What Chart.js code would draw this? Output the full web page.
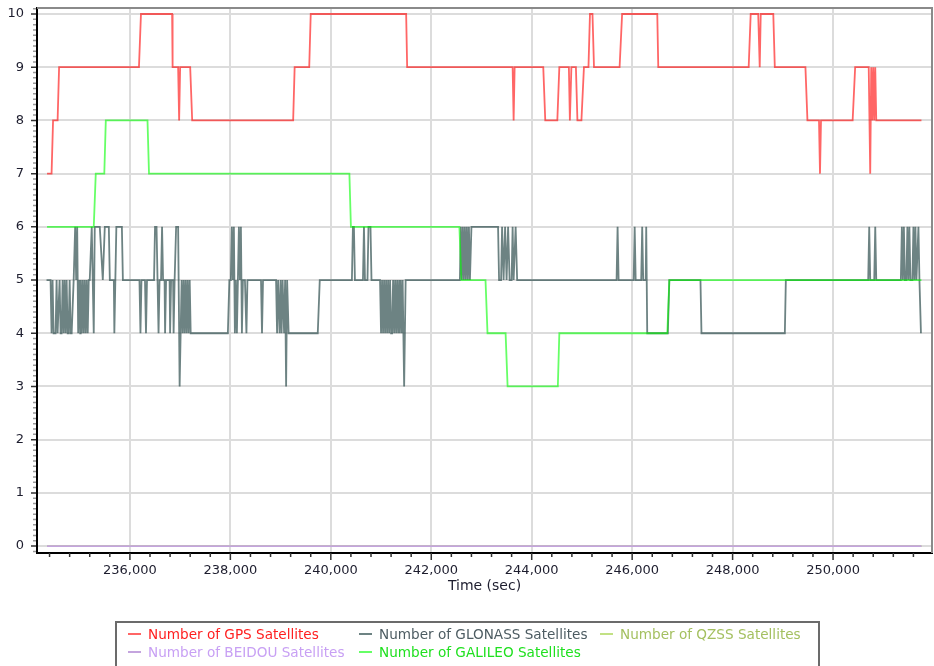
<!DOCTYPE html>
<html>
<head>
<meta charset="utf-8">
<script src="https://cdn.jsdelivr.net/npm/chart.js@4.4.1/dist/chart.umd.min.js"></script>
<style>
  html, body { margin: 0; padding: 0; background: #fff; overflow: hidden; }
  #wrap { position: relative; width: 934px; height: 666px; }
  #legend { position: absolute; left: 115px; top: 621px; width: 701px; height: 50px;
            border: 2px solid #6b6b6b; font: 13.6px "DejaVu Sans", sans-serif; }
  .item { position: absolute; white-space: nowrap; line-height: 16px; }
  .item i { position: absolute; left: -20px; top: 7px; width: 13px; height: 2px; }
</style>
</head>
<body>
<div id="wrap">
  <canvas id="chart" width="934" height="666"></canvas>
  <div id="legend"></div>
</div>
<script>
// [time (sec), number of satellites]
const gps = [[234350,7],[234440,7],[234470,8],[234560,8],[234590,9],[236180,9],[236220,10],[236840,10],
  [236850,9],[236960,9],[236980,8],[237000,9],[237200,9],[237240,8],[239250,8],[239280,9],[239570,9],
  [239600,10],[241500,10],[241520,9],[243620,9],[243640,8],[243660,9],[244230,9],[244270,8],[244510,8],
  [244550,9],[244740,9],[244760,8],[244790,9],[244880,9],[244910,8],[244990,8],[245040,9],[245130,9],
  [245160,10],[245210,10],[245240,9],[245750,9],[245800,10],[246500,10],[246520,9],[248320,9],[248360,10],
  [248510,10],[248540,9],[248560,10],[248810,10],[248840,9],[249450,9],[249490,8],[249720,8],[249740,7],
  [249760,8],[250390,8],[250440,9],[250710,9],[250740,7],[250760,9],[250780,8],[250800,9],[250820,8],
  [250840,9],[250860,8],[251760,8]];

const glonass = [[234340,5],[234420,5],[234440,4],[234460,5],[234480,4],[234520,4],[234540,5],[234560,4],
  [234600,5],[234620,4],[234640,4],[234660,5],[234680,4],[234700,5],[234720,4],[234740,5],[234760,4],
  [234780,4],[234800,5],[234820,4],[234840,4],[234880,5],[234910,6],[234930,5],[234950,6],[234970,4],
  [234990,5],[235010,4],[235020,5],[235040,4],[235060,5],[235080,4],[235100,5],[235120,4],[235140,5],
  [235160,4],[235180,5],[235200,5],[235240,6],[235280,4],[235300,6],[235400,6],[235460,5],[235500,6],
  [235580,6],[235600,5],[235680,5],[235690,4],[235710,5],[235730,6],[235840,6],[235860,5],[236190,5],
  [236210,4],[236230,5],[236300,5],[236320,4],[236340,5],[236480,5],[236500,6],[236530,6],[236550,5],
  [236570,4],[236590,5],[236620,5],[236640,6],[236660,5],[236690,5],[236700,4],[236720,5],[236790,5],
  [236800,4],[236820,5],[236860,5],[236870,4],[236890,5],[236920,6],[236960,6],[236990,3],[237010,4],
  [237030,5],[237050,4],[237070,5],[237090,4],[237110,5],[237130,4],[237150,5],[237170,4],[237190,5],
  [237210,4],[237950,4],[237980,5],[238010,5],[238030,6],[238050,5],[238070,6],[238090,4],[238110,5],
  [238130,4],[238150,5],[238170,6],[238190,5],[238210,6],[238230,4],[238250,5],[238290,5],[238320,4],
  [238340,5],[238610,5],[238630,4],[238650,5],[238910,5],[238930,4],[238950,5],[238980,4],[239000,5],
  [239020,4],[239040,5],[239070,4],[239090,5],[239110,3],[239130,5],[239160,4],[239740,4],[239780,5],
  [240420,5],[240440,6],[240460,6],[240480,5],[240640,5],[240660,6],[240680,5],[240730,5],[240750,6],
  [240790,6],[240810,5],[240980,5],[241000,4],[241020,5],[241040,4],[241060,5],[241080,4],[241100,5],
  [241120,4],[241140,5],[241160,4],[241180,5],[241200,4],[241220,4],[241240,5],[241260,4],[241280,5],
  [241300,4],[241320,5],[241340,4],[241360,5],[241370,4],[241390,5],[241410,4],[241430,5],[241460,3],
  [241490,5],[242570,5],[242590,6],[242610,5],[242630,6],[242650,5],[242670,6],[242690,5],[242710,6],
  [242730,5],[242750,6],[242770,5],[242800,6],[243330,6],[243350,5],[243390,5],[243410,6],[243440,5],
  [243470,6],[243500,5],[243530,6],[243560,5],[243600,5],[243620,6],[243640,5],[243680,6],[243710,5],
  [245690,5],[245710,6],[245730,5],[246030,5],[246050,6],[246070,5],[246180,5],[246200,6],[246220,5],
  [246270,5],[246280,6],[246300,4],[246710,4],[246740,5],[247360,5],[247380,4],[249040,4],[249060,5],
  [250700,5],[250720,6],[250740,5],[250820,5],[250840,6],[250860,5],[251350,5],[251370,6],[251390,5],
  [251410,6],[251430,5],[251460,5],[251480,6],[251500,5],[251520,6],[251540,5],[251580,5],[251600,6],
  [251620,5],[251640,6],[251660,5],[251700,6],[251720,5],[251750,4]];

const qzss = [[234350,0],[251760,0]];
const beidou = [[234350,0],[251760,0]];

const galileo = [[234350,6],[235280,6],[235320,7],[235490,7],[235520,8],[236350,8],[236380,7],[240370,7],
  [240400,6],[242560,6],[242600,5],[243080,5],[243120,4],[243480,4],[243520,3],[244520,3],[244550,4],
  [246700,4],[246740,5],[251760,5]];

const labels = ['Number of GPS Satellites', 'Number of GLONASS Satellites', 'Number of QZSS Satellites',
                'Number of BEIDOU Satellites', 'Number of GALILEO Satellites'];

const xTicks = [236000, 238000, 240000, 242000, 244000, 246000, 248000, 250000];
const yTicks = [0, 1, 2, 3, 4, 5, 6, 7, 8, 9, 10];

const series = [
  { label: labels[0], pts: gps,     line: 'rgba(255,0,0,0.6)',    text: '#ff1f1f', order: 2, col: 0, row: 0 },
  { label: labels[1], pts: glonass, line: 'rgba(47,79,79,0.7)',   text: '#4d5c62', order: 3, col: 1, row: 0 },
  { label: labels[2], pts: qzss,    line: 'rgba(154,205,50,0.6)', text: '#a4c060', order: 5, col: 2, row: 0 },
  { label: labels[3], pts: beidou,  line: 'rgb(196,164,222)',     text: '#c8a0f4', order: 4, col: 0, row: 1 },
  { label: labels[4], pts: galileo, line: 'rgba(0,255,0,0.6)',    text: '#1fe01f', order: 1, col: 1, row: 1 }
];

const tickFont = { family: 'DejaVu Sans', size: 13 };
const fmt = v => String(v).replace(/\B(?=(\d{3})+(?!\d))/g, ',');

// minor/major tick marks and the grey top/right frame
const axisMarks = {
  id: 'axisMarks',
  afterDraw(chart) {
    const { ctx, chartArea: a, scales: { x, y } } = chart;
    ctx.save();
    ctx.strokeStyle = '#8a8a8a';
    ctx.lineWidth = 2;
    ctx.beginPath();
    ctx.moveTo(a.left, a.top);
    ctx.lineTo(a.right, a.top);
    ctx.lineTo(a.right, a.bottom);
    ctx.stroke();

    ctx.lineWidth = 1.5;
    ctx.beginPath();
    for (let t = 234400; t <= x.max; t += 400) {
      const px = x.getPixelForValue(t);
      const len = t % 2000 === 0 ? 7 : 4;
      ctx.moveTo(px, a.bottom);
      ctx.lineTo(px, a.bottom + len);
    }
    ctx.strokeStyle = '#333';
    ctx.stroke();

    ctx.beginPath();
    for (let i = -1; i <= 101; i++) {
      if (i % 10 === 0) continue;
      const py = y.getPixelForValue(i / 10);
      ctx.moveTo(a.left - 4, py);
      ctx.lineTo(a.left - 1, py);
    }
    ctx.strokeStyle = '#999';
    ctx.stroke();

    ctx.beginPath();
    yTicks.forEach(v => {
      const py = y.getPixelForValue(v);
      ctx.moveTo(a.left - 6, py);
      ctx.lineTo(a.left - 1, py);
    });
    ctx.strokeStyle = '#333';
    ctx.stroke();
    ctx.restore();
  }
};

new Chart(document.getElementById('chart'), {
  type: 'line',
  data: {
    datasets: series.map(s => ({
      label: s.label,
      data: s.pts.map(p => ({ x: p[0], y: p[1] })),
      borderColor: s.line,
      borderWidth: 1.8,
      pointRadius: 0,
      tension: 0,
      fill: false,
      order: s.order
    }))
  },
  options: {
    responsive: false,
    animation: false,
    layout: { padding: { top: 8, right: 2, bottom: 71, left: 0 } },
    plugins: { legend: { display: false }, tooltip: { enabled: false } },
    scales: {
      x: {
        type: 'linear', min: 234150, max: 251970,
        afterBuildTicks: s => { s.ticks = xTicks.map(value => ({ value })); },
        afterFit: s => { s.height = 42; s.paddingLeft = 0; s.paddingRight = 0; },
        ticks: { autoSkip: false, maxRotation: 0, padding: 10, color: '#1d1d2e',
                 font: tickFont, callback: v => fmt(v) },
        grid: { color: '#dcdcdc', lineWidth: 2, drawTicks: false },
        border: { color: '#000', width: 2 },
        title: { display: true, text: 'Time (sec)', color: '#1d1d2e',
                 font: { family: 'DejaVu Sans', size: 14 }, padding: 0 }
      },
      y: {
        type: 'linear', min: -0.13, max: 10.113,
        afterBuildTicks: s => { s.ticks = yTicks.map(value => ({ value })); },
        afterFit: s => { s.width = 37; s.paddingTop = 0; s.paddingBottom = 0; },
        ticks: { autoSkip: false, padding: 13, color: '#1d1d2e', font: tickFont },
        grid: { color: '#dcdcdc', lineWidth: 2, drawTicks: false },
        border: { color: '#000', width: 2 }
      }
    }
  },
  plugins: [axisMarks]
});

// legend: 3 fixed columns like the original
const colX = [31, 262, 503];
const rowY = [3, 21];
const legend = document.getElementById('legend');
series.forEach(s => {
  const d = document.createElement('div');
  d.className = 'item';
  d.style.left = colX[s.col] + 'px';
  d.style.top = rowY[s.row] + 'px';
  d.style.color = s.text;
  const sym = document.createElement('i');
  sym.style.background = s.line;
  d.appendChild(sym);
  d.appendChild(document.createTextNode(s.label));
  legend.appendChild(d);
});
</script>
</body>
</html>
